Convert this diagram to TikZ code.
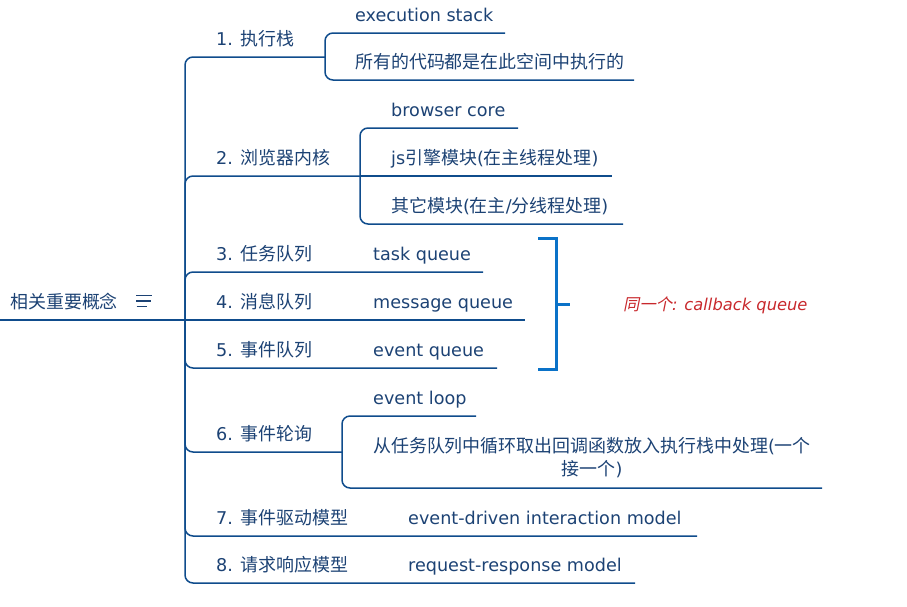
\documentclass[tikz,border=0pt]{standalone}
\usepackage{fontspec}
\setmainfont{DejaVu Sans}
\newfontfamily\cjk{Noto Sans CJK SC}[Scale=1.02]
\newfontfamily\cjkslant{Noto Sans CJK SC}[FakeSlant=0.2]
\newcommand{\zh}[1]{{\cjk #1}}
\newcommand{\zhit}[1]{{\cjkslant #1}}
\definecolor{mapblue}{HTML}{0F4C8C}
\definecolor{mapink}{HTML}{1C4274}
\definecolor{sumblue}{HTML}{0A72C8}
\definecolor{notered}{HTML}{C8282C}

\begin{document}
\begin{tikzpicture}[x=1pt,y=-1pt,
        topic/.style={anchor=base west,inner sep=0pt,text=mapink,font=\fontsize{17.6}{23}\selectfont},
        note/.style={anchor=base west,inner sep=0pt,text=notered,font=\fontsize{16.3}{20}\selectfont\itshape},
        branch/.style={draw=mapblue,line width=1.5pt,rounded corners=8pt},
        summary/.style={draw=sumblue,line width=3pt}]
        \useasboundingbox (0,0) rectangle (907,606);
        % root
        \node[topic] (root) at (10,308) {\zh{相关重要概念}};
        \draw[mapink,line width=1.1pt] (136,295.7) -- (152,295.7);
        \draw[mapink,line width=1.1pt] (136,301) -- (150.5,301);
        \draw[mapink,line width=1.1pt] (136.5,306.3) -- (146.5,306.3);
        % topics
        \node[topic] (c1) at (216,45) {1. \zh{执行栈}};
        \node[topic] (c2) at (216,164) {2. \zh{浏览器内核}};
        \node[topic] (c3) at (216,260) {3. \zh{任务队列}};
        \node[topic] (c4) at (216,308) {4. \zh{消息队列}};
        \node[topic] (c5) at (216,356) {5. \zh{事件队列}};
        \node[topic] (c6) at (216,440) {6. \zh{事件轮询}};
        \node[topic] (c7) at (216,524) {7. \zh{事件驱动模型}};
        \node[topic] (c8) at (216,571) {8. \zh{请求响应模型}};
        % subtopics
        \node[topic] (g11) at (355,21) {execution stack};
        \node[topic] (g12) at (355,68) {\zh{所有的代码都是在此空间中执行的}};
        \node[topic] (g21) at (391,116) {browser core};
        \node[topic] (g22) at (391,164) {js\zh{引擎模块}(\zh{在主线程处理})};
        \node[topic] (g23) at (391,212) {\zh{其它模块}(\zh{在主}/\zh{分线程处理})};
        \node[topic] (g31) at (373,260) {task queue};
        \node[topic] (g41) at (373,308) {message queue};
        \node[topic] (g51) at (373,356) {event queue};
        \node[topic] (g61) at (373,404) {event loop};
        \node[topic,anchor=center,align=center] (g62) at (592,458) {\zh{从任务队列中循环取出回调函数放入执行栈中处理}(\zh{一个}\\\zh{接一个})};
        \node[topic] (g71) at (408,524) {event-driven interaction model};
        \node[topic] (g81) at (408,571) {request-response model};
        \node[note] (cbq) at (623,310) {\zhit{同一个}: callback queue};
        % junctions
        \coordinate (rootend) at (0,320);
        \coordinate (hub) at (185,320);
        \coordinate (c1end) at (325,57);
        \coordinate (c2end) at (360,176);
        \coordinate (c3end) at (483,272);
        \coordinate (c4end) at (525,320);
        \coordinate (c5end) at (497,368);
        \coordinate (c6end) at (342,452);
        \coordinate (c7end) at (697,536);
        \coordinate (c8end) at (635,583);
        \coordinate (g11end) at (505,33);
        \coordinate (g12end) at (634,80);
        \coordinate (g21end) at (518,128);
        \coordinate (g22end) at (612,176);
        \coordinate (g23end) at (623,224);
        \coordinate (g61end) at (476,416);
        \coordinate (g62end) at (822,488);
        \coordinate (sumtop) at (538,238);
        \coordinate (sumbot) at (538,369);
        \coordinate (summid) at (556,304);
        \coordinate (sumtip) at (570,304);
        % branches
        \draw[branch] (rootend) -- (hub) -- (c4end);
        \foreach \e in {c1end,c2end,c3end,c5end,c6end,c7end,c8end}
                \draw[branch] (hub) |- (\e);
        \draw[branch] (c1end) |- (g11end);
        \draw[branch] (c1end) |- (g12end);
        \draw[branch] (c2end) |- (g21end);
        \draw[branch] (c2end) -- (g22end);
        \draw[branch] (c2end) |- (g23end);
        \draw[branch] (c6end) |- (g61end);
        \draw[branch] (c6end) |- (g62end);
        % summary bracket
        \draw[summary] (sumtop) -| (summid) |- (sumbot);
        \draw[summary] (summid) -- (sumtip);
\end{tikzpicture}
\end{document}
